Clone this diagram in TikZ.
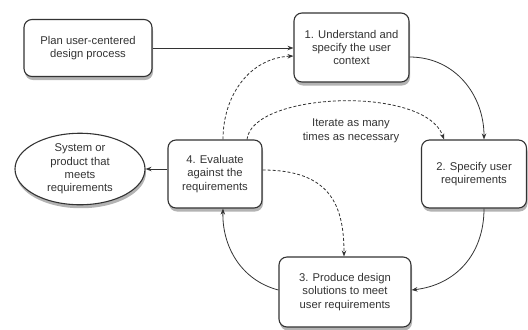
\documentclass[tikz,border=0pt]{standalone}
\usepackage{fontspec}
\setmainfont{Liberation Sans}
\usetikzlibrary{shapes.geometric,shadows,arrows.meta}
\begin{document}
\begin{tikzpicture}[x=1bp,y=-1bp,
  box/.style={draw=black!80,line width=1.1bp,rounded corners=8bp,fill=white,
    drop shadow={shadow xshift=1bp,shadow yshift=-3.5bp,opacity=0.6},
    align=center,inner sep=0pt,font=\fontsize{11.3}{13.5}\selectfont,text=black!80},
  conn/.style={line width=0.8bp,draw=black!80,-{Stealth[length=6bp,width=4.5bp]}},
  dconn/.style={conn,dashed,dash pattern=on 3bp off 2bp}]
\useasboundingbox (0,0) rectangle (528,329);
\node[box,minimum width=128bp,minimum height=57bp] (plan) at (88,48) {Plan user-centered\\design process};
\node[box,minimum width=115bp,minimum height=69bp] (b1) at (351.5,47.5) {1. Understand and\\specify the user\\context};
\node[box,minimum width=105bp,minimum height=68bp] (b2) at (474,174) {2. Specify user\\requirements};
\node[box,minimum width=94bp,minimum height=68bp] (b4) at (215,174) {4. Evaluate\\against the\\requirements};
\node[box,minimum width=132bp,minimum height=70bp] (b3) at (345,292) {3. Produce design\\solutions to meet\\user requirements};
\node[box,ellipse,rounded corners=0pt,minimum width=130bp,minimum height=68bp] (ell) at (80,169) {System or\\product that\\meets\\requirements};
\node[align=center,font=\fontsize{11.3}{13.5}\selectfont,text=black!80] (it) at (351,131) {Iterate as many\\times as necessary};
\coordinate (b1w) at (b1.west |- 0,48);
\draw[conn] (plan.east |- 0,48) -- (b1w);
\draw[dconn] (b4.north -| 223,0) .. controls (223,95) and (250,58) .. (b1.west |- 0,56);
\draw[conn] (b1.east |- 0,57) .. controls (455,57) and (484,95) .. (b2.north -| 484,0);
\draw[dconn] (b4.north -| 247,0) .. controls (252,92) and (425,85) .. (b2.north -| 444,0);
\draw[conn] (b2.south -| 484,0) .. controls (484,255) and (455,285) .. (b3.east |- 0,290);
\draw[conn] (b3.west |- 0,290) .. controls (240,280) and (222,245) .. (b4.south -| 223,0);
\draw[dconn] (b4.east |- 0,170) .. controls (330,170) and (344,205) .. (b3.north -| 344,0);
\draw[conn] (b4.west |- 0,169) -- (ell.east);
\end{tikzpicture}
\end{document}
